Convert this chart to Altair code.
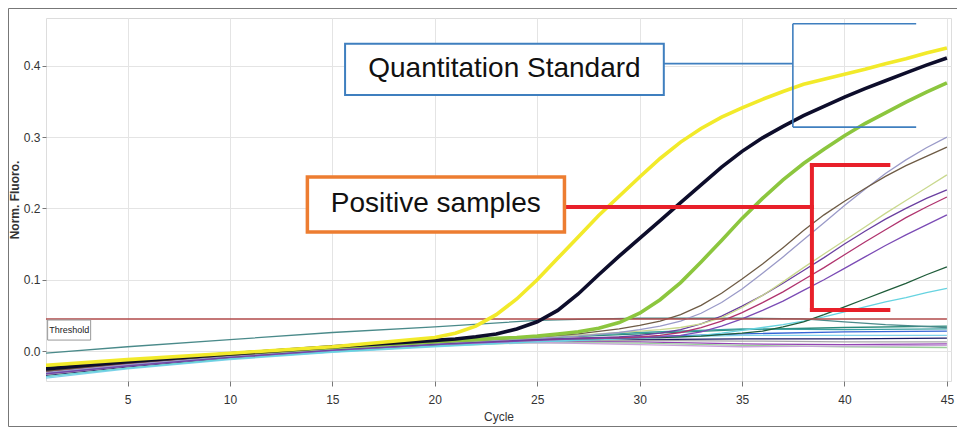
import altair as alt
import pandas as pd

# ---------------- data ----------------
STD_CYCLES = [1, 5, 10, 15, 20, 21, 22, 23, 24, 25, 26, 27, 28, 29, 30, 31, 32, 33,
              34, 35, 36, 37, 38, 39, 40, 41, 42, 43, 44, 45]
STD_YELLOW = [-0.020, -0.012, -0.003, 0.006, 0.019, 0.025, 0.035, 0.051, 0.073, 0.100,
              0.130, 0.160, 0.190, 0.217, 0.244, 0.270, 0.293, 0.312, 0.328, 0.341,
              0.353, 0.364, 0.374, 0.381, 0.388, 0.395, 0.403, 0.410, 0.418, 0.425]
STD_BLACK = [-0.025, -0.015, -0.004, 0.006, 0.015, 0.017, 0.020, 0.024, 0.031, 0.041,
             0.057, 0.080, 0.107, 0.133, 0.158, 0.183, 0.208, 0.233, 0.258, 0.280,
             0.299, 0.315, 0.330, 0.343, 0.356, 0.368, 0.379, 0.390, 0.401, 0.411]
STD_GREEN = [-0.024, -0.014, -0.004, 0.005, 0.013, 0.015, 0.016, 0.018, 0.019, 0.021,
             0.024, 0.027, 0.032, 0.040, 0.053, 0.072, 0.096, 0.125, 0.155, 0.186,
             0.214, 0.240, 0.263, 0.283, 0.302, 0.319, 0.334, 0.349, 0.363, 0.376]

POS_CYCLES = [1, 5, 10, 15, 20, 25, 27, 29, 30, 31, 32, 33, 34, 35, 36, 37, 38, 39,
              40, 41, 42, 43, 44, 45]
POS_BROWN = [-0.028, -0.017, -0.006, 0.004, 0.012, 0.020, 0.024, 0.031, 0.036, 0.042,
             0.051, 0.064, 0.081, 0.101, 0.122, 0.145, 0.169, 0.191, 0.210, 0.228,
             0.245, 0.260, 0.273, 0.286]
POS_GREYBLUE = [-0.030, -0.019, -0.007, 0.003, 0.011, 0.018, 0.021, 0.026, 0.030, 0.035,
                0.042, 0.053, 0.068, 0.087, 0.109, 0.132, 0.156, 0.180, 0.204, 0.227,
                0.249, 0.268, 0.285, 0.300]
POS_OLIVE = [-0.027, -0.016, -0.005, 0.004, 0.012, 0.019, 0.022, 0.026, 0.028, 0.030,
             0.033, 0.038, 0.047, 0.061, 0.078, 0.097, 0.117, 0.136, 0.155, 0.174,
             0.193, 0.211, 0.229, 0.247]
POS_PURPLE1 = [-0.031, -0.020, -0.008, 0.002, 0.010, 0.016, 0.018, 0.020, 0.022, 0.025,
               0.030, 0.038, 0.049, 0.063, 0.078, 0.095, 0.113, 0.131, 0.150, 0.168,
               0.185, 0.200, 0.214, 0.226]
POS_MAGENTA = [-0.029, -0.018, -0.007, 0.003, 0.011, 0.016, 0.018, 0.019, 0.020, 0.022,
               0.026, 0.033, 0.042, 0.054, 0.068, 0.083, 0.100, 0.117, 0.135, 0.153,
               0.170, 0.187, 0.202, 0.216]
POS_PURPLE2 = [-0.032, -0.021, -0.009, 0.001, 0.009, 0.015, 0.017, 0.018, 0.019, 0.020,
               0.022, 0.027, 0.035, 0.045, 0.057, 0.070, 0.085, 0.100, 0.116, 0.132,
               0.148, 0.163, 0.177, 0.191]
POS_DKGREEN = [-0.030, -0.019, -0.008, 0.002, 0.010, 0.016, 0.017, 0.018, 0.019, 0.019,
               0.020, 0.021, 0.023, 0.025, 0.028, 0.034, 0.041, 0.051, 0.062, 0.073,
               0.084, 0.095, 0.107, 0.118]
POS_CYAN = [-0.036, -0.024, -0.011, -0.001, 0.007, 0.013, 0.015, 0.017, 0.018, 0.019,
            0.020, 0.022, 0.025, 0.029, 0.033, 0.037, 0.042, 0.048, 0.055, 0.062,
            0.069, 0.075, 0.082, 0.088]

TEAL_CYCLES = [1, 5, 10, 15, 20, 25, 28, 30, 35, 38, 40, 42, 45]
TEAL_TOP = [-0.003, 0.006, 0.016, 0.026, 0.034, 0.043, 0.045, 0.046, 0.046, 0.045,
            0.041, 0.037, 0.033]

NEG_CYCLES = [1, 5, 10, 15, 20, 25, 30, 35, 40, 45]
NEG_1 = [-0.030, -0.019, -0.007, 0.003, 0.011, 0.018, 0.024, 0.030, 0.033, 0.035]
NEG_2 = [-0.032, -0.021, -0.009, 0.001, 0.009, 0.016, 0.020, 0.024, 0.027, 0.028]
NEG_3 = [-0.034, -0.022, -0.010, 0.000, 0.008, 0.013, 0.016, 0.017, 0.017, 0.018]
NEG_4 = [-0.029, -0.018, -0.007, 0.002, 0.010, 0.014, 0.013, 0.010, 0.009, 0.010]
NEG_5 = [-0.036, -0.024, -0.011, -0.001, 0.007, 0.012, 0.011, 0.008, 0.006, 0.005]
NEG_6 = [-0.033, -0.021, -0.009, 0.001, 0.009, 0.014, 0.015, 0.014, 0.013, 0.013]
NEG_7 = [-0.038, -0.025, -0.012, -0.002, 0.006, 0.013, 0.019, 0.022, 0.022, 0.022]
NEG_8 = [-0.031, -0.020, -0.008, 0.002, 0.010, 0.012, 0.009, 0.006, 0.007, 0.008]
NEG_9 = [-0.027, -0.016, -0.005, 0.004, 0.012, 0.019, 0.026, 0.031, 0.030, 0.031]

THRESHOLD = 0.045

X_TICKS = [5, 10, 15, 20, 25, 30, 35, 40, 45]
Y_TICKS = [0.0, 0.1, 0.2, 0.3, 0.4]

# ---------------- series -> colours ----------------
THIN = [
    ("neg1", NEG_CYCLES, NEG_1, "#2a8a7a"),
    ("neg2", NEG_CYCLES, NEG_2, "#3566d6"),
    ("neg3", NEG_CYCLES, NEG_3, "#1b1b66"),
    ("neg4", NEG_CYCLES, NEG_4, "#9444b4"),
    ("neg5", NEG_CYCLES, NEG_5, "#9bd09b"),
    ("neg6", NEG_CYCLES, NEG_6, "#a9a9a9"),
    ("neg7", NEG_CYCLES, NEG_7, "#7fd2ea"),
    ("neg8", NEG_CYCLES, NEG_8, "#c9a3da"),
    ("neg9", NEG_CYCLES, NEG_9, "#3aa0a0"),
    ("teal", TEAL_CYCLES, TEAL_TOP, "#4a8a8a"),
    ("cyan", POS_CYCLES, POS_CYAN, "#66d3e0"),
    ("dkgreen", POS_CYCLES, POS_DKGREEN, "#1f5c3a"),
    ("purple2", POS_CYCLES, POS_PURPLE2, "#7b4bb5"),
    ("magenta", POS_CYCLES, POS_MAGENTA, "#b0336e"),
    ("purple1", POS_CYCLES, POS_PURPLE1, "#6a3fa0"),
    ("olive", POS_CYCLES, POS_OLIVE, "#c9d88e"),
    ("greyblue", POS_CYCLES, POS_GREYBLUE, "#9a9ac8"),
    ("brown", POS_CYCLES, POS_BROWN, "#6e5b45"),
]
THICK = [
    ("green", STD_CYCLES, STD_GREEN, "#8cc63e"),
    ("black", STD_CYCLES, STD_BLACK, "#0d0d2b"),
    ("yellow", STD_CYCLES, STD_YELLOW, "#f2ea2a"),
]


def frame(series):
    rows = []
    for name, cyc, vals, _ in series:
        for c, v in zip(cyc, vals):
            rows.append({"series": name, "cycle": c, "value": v})
    return pd.DataFrame(rows)


ALL = THIN + THICK
COLOR = alt.Color("series:N", legend=None,
                  scale=alt.Scale(domain=[s[0] for s in ALL], range=[s[3] for s in ALL]))

NARROW = "Liberation Sans Narrow, Arial Narrow, Liberation Sans, sans-serif"
SANS = "Liberation Sans, Arial, sans-serif"

XSCALE = alt.Scale(domain=[1.02, 45.2], nice=False, zero=False)
YSCALE = alt.Scale(domain=[-0.042, 0.467], nice=False, zero=False)
XAXIS = alt.Axis(values=X_TICKS, title="Cycle", grid=True, gridColor="#e4e4e4",
                 tickColor="#777", tickSize=5, domain=False,
                 labelFont=NARROW, labelFontSize=12, labelColor="#333",
                 labelPadding=8, titleFont=SANS, titleFontSize=12,
                 titleFontWeight="normal", titleColor="#333", titlePadding=6)
YAXIS = alt.Axis(values=Y_TICKS, format=".1f", title="Norm. Fluoro.", grid=True,
                 gridColor="#e4e4e4", tickColor="#777", tickSize=4, domain=False,
                 labelFont=NARROW, labelFontSize=12, labelColor="#333",
                 labelPadding=2, titleFont=SANS, titleFontSize=12,
                 titleFontWeight="bold", titleColor="#333", titlePadding=2)


def X(field="cycle"):
    return alt.X(f"{field}:Q", scale=XSCALE, axis=XAXIS)


def Y(field="value"):
    return alt.Y(f"{field}:Q", scale=YSCALE, axis=YAXIS)


thin = alt.Chart(frame(THIN)).mark_line(strokeWidth=1.3, clip=True).encode(
    x=X(), y=Y(), color=COLOR, detail="series:N", order="cycle:Q")

thick = alt.Chart(frame(THICK)).mark_line(strokeWidth=3.6, clip=True).encode(
    x=X(), y=Y(), color=COLOR, detail="series:N", order="cycle:Q")

thr = alt.Chart(pd.DataFrame({"cycle": [1.02], "cycle2": [45], "value": [THRESHOLD]})).mark_rule(
    color="#b04a4a", strokeWidth=1.5).encode(x=X(), x2="cycle2:Q", y=Y())

# threshold label
thr_box = alt.Chart(pd.DataFrame({"cycle": [1.1], "cycle2": [3.2],
                                  "value": [0.0154], "value2": [0.0435]})).mark_rect(
    fill="white", stroke="#999999", strokeWidth=1).encode(
    x=X(), x2="cycle2:Q", y=Y(), y2="value2:Q")
thr_txt = alt.Chart(pd.DataFrame({"cycle": [2.15], "value": [0.0295], "t": ["Threshold"]})).mark_text(
    font=NARROW, fontSize=9, color="#222", align="center", baseline="middle").encode(
    x=X(), y=Y(), text="t:N")

# Quantitation Standard annotation
QS_X = [31.18, 37.48, 37.48, 37.48]
QS_X2 = [37.48, 37.48, 43.5, 43.5]
QS_Y = [0.403, 0.459, 0.459, 0.314]
QS_Y2 = [0.403, 0.314, 0.459, 0.314]
qs_rules = alt.Chart(pd.DataFrame({"cycle": QS_X, "cycle2": QS_X2,
                                   "value": QS_Y, "value2": QS_Y2})).mark_rule(
    color="#3f7fbf", strokeWidth=1.6).encode(x=X(), x2="cycle2:Q", y=Y(), y2="value2:Q")
qs_box = alt.Chart(pd.DataFrame({"cycle": [15.62], "cycle2": [31.18],
                                 "value": [0.359], "value2": [0.431]})).mark_rect(
    fill="white", stroke="#3f7fbf", strokeWidth=2).encode(
    x=X(), x2="cycle2:Q", y=Y(), y2="value2:Q")
qs_txt = alt.Chart(pd.DataFrame({"cycle": [23.4], "value": [0.395],
                                 "t": ["Quantitation Standard"]})).mark_text(
    font=SANS, fontSize=28, color="#111", align="center", baseline="middle").encode(
    x=X(), y=Y(), text="t:N")

# Positive samples annotation
PS_X = [26.33, 38.41, 38.41, 38.41]
PS_X2 = [38.41, 38.41, 42.14, 42.14]
PS_Y = [0.202, 0.261, 0.261, 0.0575]
PS_Y2 = [0.202, 0.0575, 0.261, 0.0575]
ps_rules = alt.Chart(pd.DataFrame({"cycle": PS_X, "cycle2": PS_X2,
                                   "value": PS_Y, "value2": PS_Y2})).mark_rule(
    color="#e8202a", strokeWidth=4, strokeCap="square").encode(
    x=X(), x2="cycle2:Q", y=Y(), y2="value2:Q")
ps_box = alt.Chart(pd.DataFrame({"cycle": [13.78], "cycle2": [26.33],
                                 "value": [0.167], "value2": [0.244]})).mark_rect(
    fill="white", stroke="#ed7d31", strokeWidth=3.5).encode(
    x=X(), x2="cycle2:Q", y=Y(), y2="value2:Q")
ps_txt = alt.Chart(pd.DataFrame({"cycle": [20.05], "value": [0.2056],
                                 "t": ["Positive samples"]})).mark_text(
    font=SANS, fontSize=28, color="#111", align="center", baseline="middle").encode(
    x=X(), y=Y(), text="t:N")

# outer figure frame (decoration)
outer = alt.Chart(pd.DataFrame({"k": [0]})).mark_rect(
    fill=None, stroke="#777777", strokeWidth=1, clip=False).encode(
    x=alt.value(-37.5), x2=alt.value(930), y=alt.value(-9.5), y2=alt.value(408.5))

chart = alt.layer(
    outer, thin, thr, thick, thr_box, thr_txt,
    qs_rules, qs_box, qs_txt, ps_rules, ps_box, ps_txt
).properties(
    width=905, height=363,
    padding={"left": 38, "top": 10, "right": 6, "bottom": 46},
    autosize=alt.AutoSizeParams(type="none"),
).configure_view(stroke="#111111", strokeWidth=2).configure(background="white")

chart.save("out.html", embed_options={"renderer": "svg", "actions": False})
